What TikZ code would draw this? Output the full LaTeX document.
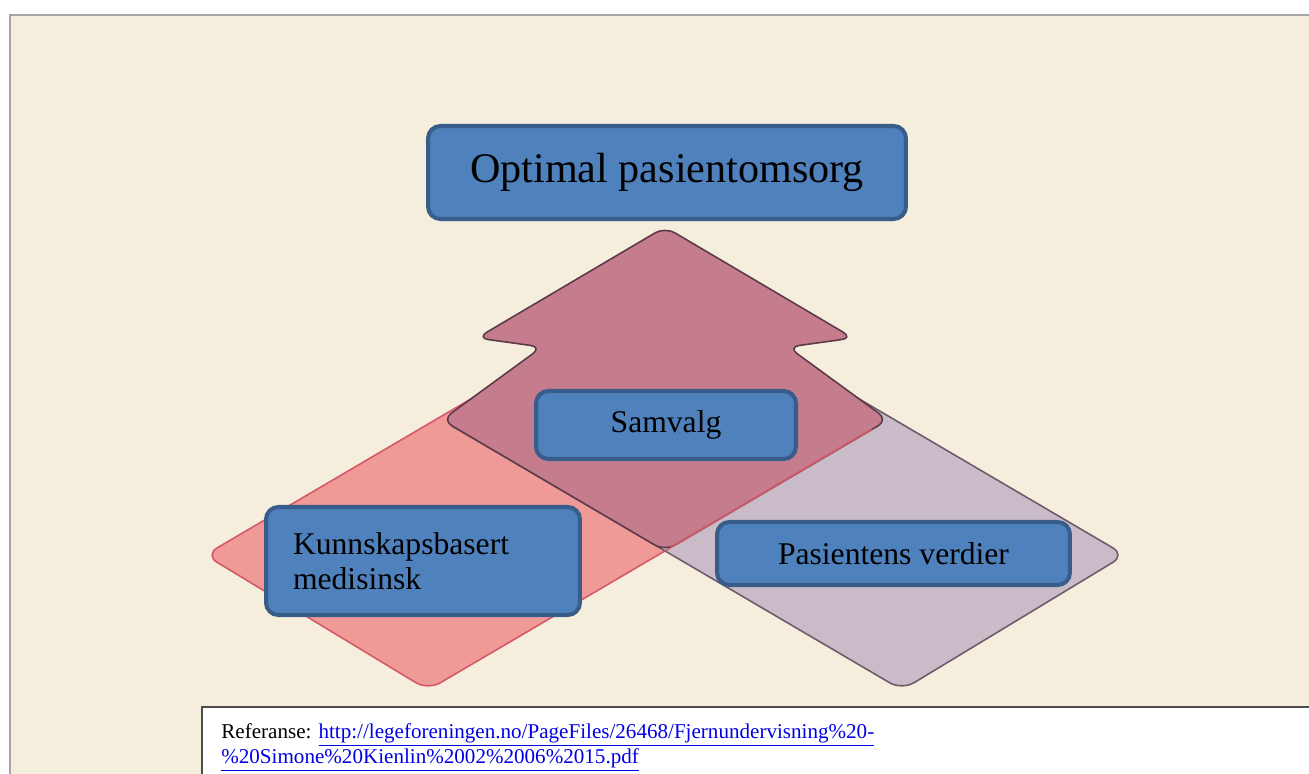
\documentclass[tikz,border=0pt]{standalone}
\usepackage{fontspec}
\setmainfont{Liberation Serif}
\usetikzlibrary{positioning}
\definecolor{bakgrunn}{RGB}{245,238,220}
\definecolor{boksfyll}{RGB}{79,129,189}
\definecolor{bokskant}{RGB}{56,93,138}
\definecolor{roedfyll}{RGB}{239,154,151}
\definecolor{roedkant}{RGB}{214,88,104}
\definecolor{lillafyll}{RGB}{201,188,200}
\definecolor{lillakant}{RGB}{110,90,108}
\definecolor{pilfyll}{RGB}{197,125,141}
\definecolor{pilkant}{RGB}{93,58,74}
\definecolor{ramme}{RGB}{165,165,165}
\definecolor{lenke}{RGB}{0,0,230}

\begin{document}
\begin{tikzpicture}[x=0.02cm,y=-0.02cm,
    boks/.style={draw=bokskant,fill=boksfyll,line width=2.3pt,rounded corners=7pt,inner sep=0pt},
    flate/.style={line width=0.9pt,rounded corners=8pt}]
  \useasboundingbox (0,0) rectangle (1309,774);
  % background and frame
  \fill[white] (0,0) rectangle (1309,774);
  \fill[bakgrunn] (10,15) rectangle (1309,774);
  \draw[ramme,line width=1.4pt] (10,774) -- (10,15) -- (1309,15);
  % the two areas
  \draw[flate,fill=roedfyll,draw=roedkant] (205,555) -- (665,285) -- (888,420) -- (428,690) -- cycle;
  \draw[flate,fill=lillafyll,draw=lillakant] (442,420) -- (665,285) -- (1125,555) -- (902,690) -- cycle;
  % the arrow
  \draw[line width=0.9pt,rounded corners=6.5pt,fill=pilfyll,draw=pilkant]
    (665,227) -- (853,338) -- (788,347) -- (888,420) -- (665,551) -- (442,420) -- (542,347) -- (477,338) -- cycle;
  \draw[roedkant,line width=0.9pt] (665,551) -- (872,429);
  % the boxes
  \node[boks,minimum width=9.56cm,minimum height=1.86cm,font=\fontsize{24}{29}\selectfont] (optimal) at (667,172.5) {Optimal pasientomsorg};
  \node[boks,minimum width=5.2cm,minimum height=1.36cm,font=\fontsize{18}{20}\selectfont] (samvalg) at (666,425) {Samvalg};
  \node[boks,text width=5.2cm,inner xsep=0.54cm,minimum height=2.16cm,align=left,font=\fontsize{18}{20}\selectfont] (kunnskap) at (423,561) {Kunnskapsbasert\\medisinsk};
  \node[boks,minimum width=7.06cm,minimum height=1.26cm,font=\fontsize{18}{20}\selectfont] (verdier) at (893.5,553.5) {Pasientens verdier};
  % reference
  \draw[fill=white,draw=black!70,line width=0.8pt] (202,707) rectangle (1330,800);
  \node[anchor=north west,align=left,inner sep=0pt,font=\fontsize{12}{14.2}\selectfont] (referanse) at (221,723)
    {Referanse: \textcolor{lenke}{\underline{http://legeforeningen.no/PageFiles/26468/Fjernundervisning\%20-}}\\
     \textcolor{lenke}{\underline{\%20Simone\%20Kienlin\%2002\%2006\%2015.pdf}}};
\end{tikzpicture}
\end{document}
